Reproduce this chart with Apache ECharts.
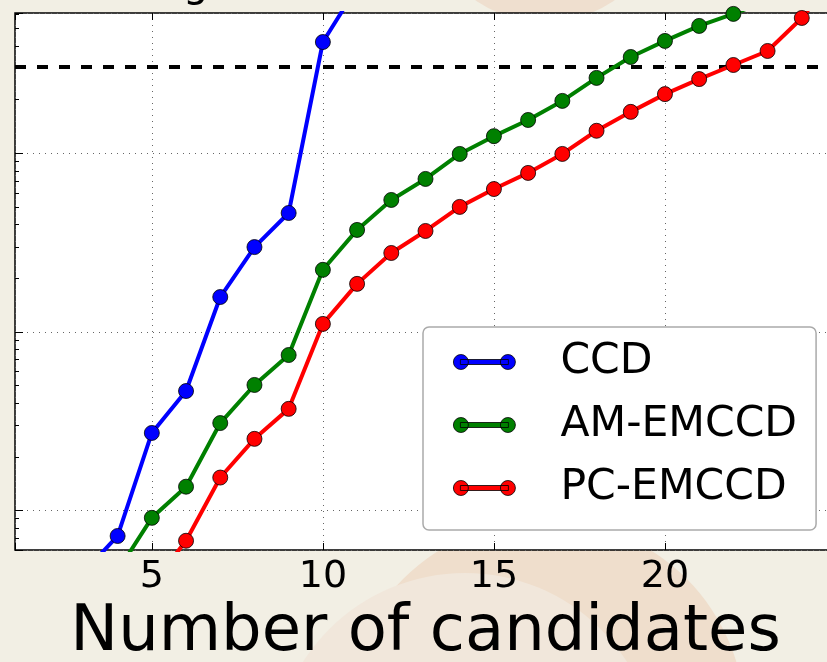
<!DOCTYPE html>
<html><head><meta charset="utf-8">
<script src="https://cdn.jsdelivr.net/npm/echarts@6/dist/echarts.min.js"></script>
<style>html,body{margin:0;padding:0;background:#f2efe4;overflow:hidden;width:827px;height:662px}#c{width:827px;height:662px;}</style>
</head><body><div id="c"></div>
<script>
// ---- data ----
const ccdN   = [3, 4, 5, 6, 7, 8, 9, 10, 11];
const ccdVal = [0.45, 0.72, 2.72, 4.67, 15.7, 29.9, 46.4, 421, 853];
const amN    = [4, 5, 6, 7, 8, 9, 10, 11, 12, 13, 14, 15, 16, 17, 18, 19, 20, 21, 22, 23];
const amVal  = [0.458, 0.91, 1.36, 3.09, 5.05, 7.43, 22.3, 37.3, 54.9, 72.0, 99.4, 125, 154, 197, 265, 347, 427, 518, 605, 720];
const pcN    = [5, 6, 7, 8, 9, 10, 11, 12, 13, 14, 15, 16, 17, 18, 19, 20, 21, 22, 23, 24, 25];
const pcVal  = [0.383, 0.677, 1.53, 2.52, 3.71, 11.1, 18.6, 27.7, 36.8, 50.2, 63.2, 77.8, 99.4, 134, 171, 215, 261, 313, 375, 574, 1000];
const thresholdVal = 305;
const seriesNames = ['CCD', 'AM-EMCCD', 'PC-EMCCD'];
const xTickLabels = [5, 10, 15, 20];
const yMinorTicks = [0.7, 0.8, 0.9, 2, 3, 4, 5, 6, 7, 8, 9, 20, 30, 40, 50, 60, 70, 80, 90, 200, 300, 400, 500, 600];

const zip = (a, b) => a.map((v, i) => [v, b[i]]);
const FONT = 'DejaVu Sans';
const legendIcon = 'path://M0,7.5A7.5,7.5 0 1,1 15,7.5A7.5,7.5 0 1,1 0,7.5Z M47,7.5A7.5,7.5 0 1,1 62,7.5A7.5,7.5 0 1,1 47,7.5Z M7,5L55,5L55,10L7,10Z';

const chart = echarts.init(document.getElementById('c'));
const mk = (name, data, color) => ({
  name, type: 'line', data,
  symbol: 'circle', symbolSize: 15, showAllSymbol: true,
  clip: true,
  lineStyle: { color, width: 4 },
  itemStyle: { color, borderColor: '#000', borderWidth: 0.8 },
  emphasis: { disabled: true },
  animation: false,
  z: 5
});
const s0 = mk(seriesNames[0], zip(ccdN, ccdVal), '#0000ff');
s0.markLine = {
  silent: true, symbol: 'none', animation: false,
  label: { show: false },
  lineStyle: { color: '#000', width: 4, type: [11, 11] },
  data: [{ yAxis: thresholdVal }]
};
chart.setOption({
  backgroundColor: '#f2efe4',
  animation: false,
  graphic: [
    { type: 'circle', shape: { cx: 545, cy: -100, r: 122 }, style: { fill: '#efdfcf' }, z: -10, silent: true },
    { type: 'circle', shape: { cx: 545, cy: 720, r: 200 }, style: { fill: '#efdecc' }, z: -10, silent: true },
    { type: 'circle', shape: { cx: 465, cy: 765, r: 192 }, style: { fill: '#f1e7db' }, z: -9, silent: true },
    { type: 'text', x: 183, y: -34, style: { text: 'g', font: '40px "DejaVu Sans"', fill: '#000' }, z: 100, silent: true }
  ],
  grid: { left: 15, top: 13, width: 821, height: 537, outerBoundsMode: 'none', containLabel: false,
    show: true, backgroundColor: '#ffffff', borderColor: '#000', borderWidth: 1.5 },
  xAxis: [{
    type: 'value', min: 1, max: 25, position: 'bottom',
    axisLine: { show: false },
    axisTick: { show: true, inside: true, length: 7, lineStyle: { color: '#000', width: 1 } },
    axisLabel: { show: true, fontFamily: FONT, fontSize: 38, color: '#000', margin: 8,
      formatter: v => (xTickLabels.indexOf(v) >= 0 ? String(v) : '') },
    splitLine: { show: true, lineStyle: { color: '#666', width: 1, type: [1, 5] } },
    name: 'Number of candidates', nameLocation: 'middle', nameGap: 49,
    nameTextStyle: { fontFamily: FONT, fontSize: 64, color: '#000' }
  }, {
    type: 'value', min: 1, max: 25, position: 'top',
    axisLine: { show: false },
    axisTick: { show: true, inside: true, length: 7, lineStyle: { color: '#000', width: 1 } },
    axisLabel: { show: false }, splitLine: { show: false }
  }],
  yAxis: [{
    type: 'log', logBase: 10, min: 0.601, max: 612,
    axisLine: { show: false },
    axisTick: { show: true, inside: true, length: 8, lineStyle: { color: '#000', width: 1 } },
    axisLabel: { show: false },
    splitLine: { show: true, lineStyle: { color: '#666', width: 1, type: [1, 5] } }
  }, {
    type: 'log', logBase: 10, min: 0.601, max: 612, position: 'left', offset: 0,
    axisLine: { show: false },
    axisTick: { show: true, inside: true, length: 4, customValues: yMinorTicks, lineStyle: { color: '#000', width: 1 } },
    axisLabel: { show: false }, splitLine: { show: false }
  }],
  legend: {
    show: true, orient: 'vertical', left: 423, top: 327,
    data: seriesNames.map(n => ({ name: n, icon: legendIcon })),
    itemWidth: 62, itemHeight: 15, itemGap: 19,
    padding: [13, 19, 20, 30],
    backgroundColor: '#ffffff', borderColor: '#aaaaaa', borderWidth: 1.5, borderRadius: 6,
    textStyle: { fontFamily: FONT, fontSize: 42.5, color: '#000', lineHeight: 44, padding: [0, 0, 0, 40] },
    itemStyle: { borderWidth: 0.8, borderColor: '#000' },
    selectedMode: false
  },
  series: [
    s0,
    mk(seriesNames[1], zip(amN, amVal), '#008000'),
    mk(seriesNames[2], zip(pcN, pcVal), '#ff0000')
  ]
});
</script></body></html>
